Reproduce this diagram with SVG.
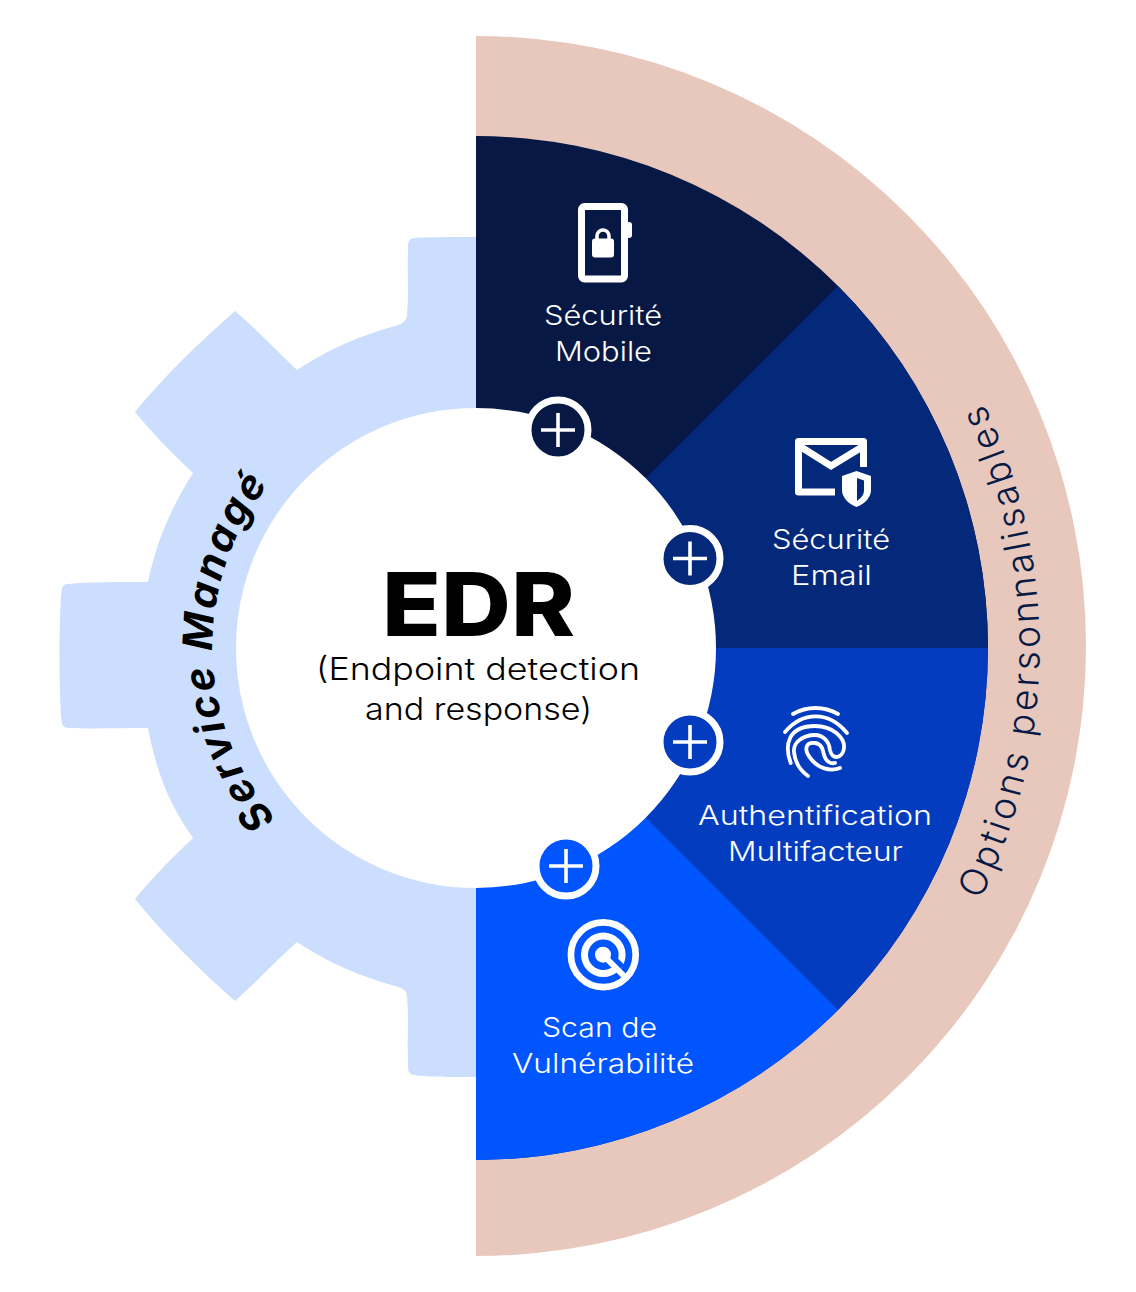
<svg xmlns="http://www.w3.org/2000/svg" width="1136" height="1292" viewBox="0 0 1136 1292">
<style>
text{font-family:"Inter","Open Sans","Liberation Sans",sans-serif}
.l{font-size:27px;fill:#fff;font-weight:300;text-anchor:start}
.c{font-size:31px;fill:#000;font-weight:300}
.p{fill:none;stroke:#fff;stroke-width:3.6;stroke-linecap:butt}
.w{fill:none;stroke:#fff;stroke-linecap:round;stroke-linejoin:round}
</style>
<defs>
<path id="arcL" d="M276 819A264 264 0 0 1 272 480"/>
<path id="arcR" d="M980 900A563 563 0 0 0 982 400"/>
<g id="plus"><path class="p" d="M-17 0H17M0 -17V17"/></g>
</defs>
<rect width="1136" height="1292" fill="#fff"/>
<g id="options-band">
<path d="M476 36A610 610 0 0 1 476 1256Z" fill="#e8c8bd"/>
<text font-size="37" font-weight="300" fill="#061a45"><textPath href="#arcR" textLength="514" lengthAdjust="spacing">Options personnalisables</textPath></text>
</g>
<g id="service-gear">
<path d="M476 237C450 237 425 237 414 238C408 239 408 243 408 250C407 270 409 290 407 315C407 321 402 324 395 326C360 336 330 348 297 370C276 350 256 329 235 311C200 342 165 375 135 412C152 433 172 453 193 473C170 510 157 540 148 582C120 582 90 582 68 584C62 584 62 588 61 596C59 630 59 680 61 716C62 725 62 728 70 728C90 729 120 728 148 728C157 775 170 805 193 838C172 858 152 878 135 899C165 936 200 970 235 1001C256 982 276 961 297 942C330 964 360 976 395 986C402 988 407 990 407 997C409 1022 407 1042 408 1062C408 1070 408 1074 414 1075C425 1077 450 1077 476 1077Z" fill="#cbdefe"/>
<text font-size="41" font-weight="700" font-style="italic" fill="#000"><textPath href="#arcL" textLength="362" lengthAdjust="spacing">Service Managé</textPath></text>
</g>
<g id="securite-mobile">
<path d="M476 136A512 512 0 0 1 988 648H476Z" fill="#061843"/>
<rect x="581.500" y="206.500" width="43" height="72.500" rx="3" fill="none" stroke="#fff" stroke-width="7"/>
<rect x="626" y="222" width="6" height="16" rx="3" fill="#fff"/>
<rect x="592" y="238.500" width="22" height="19" rx="3" fill="#fff"/>
<path d="M597 241V236A6 6 0 0 1 609 236V241" fill="none" stroke="#fff" stroke-width="3.500"/>
<text class="l" x="544" y="325" textLength="118" lengthAdjust="spacingAndGlyphs">Sécurité</text>
<text class="l" x="555" y="361" textLength="97" lengthAdjust="spacingAndGlyphs">Mobile</text>
</g>
<g id="securite-email">
<path d="M838 286A512 512 0 0 1 838 1010L476 648Z" fill="#04297a"/>
<path d="M863.500 467V441.500H798.500V492H835" fill="none" stroke="#fff" stroke-width="7" stroke-linejoin="round"/>
<path d="M801 447L831 466L862 447" fill="none" stroke="#fff" stroke-width="7"/>
<path d="M856.500 471L871 476V490C871 498 864 504 856.500 507C849 504 842 498 842 490V476Z" fill="#fff"/>
<path d="M857 478L864 480.500V490C864 495 861 498 857 501Z" fill="#04297a"/>
<text class="l" x="772" y="549" textLength="118" lengthAdjust="spacingAndGlyphs">Sécurité</text>
<text class="l" x="791" y="585" textLength="81" lengthAdjust="spacingAndGlyphs">Email</text>
</g>
<g id="authentification">
<path d="M988 648A512 512 0 0 1 476 1160V648Z" fill="#043cc0"/>
<g class="w" stroke-width="3.800">
<path d="M793 714C807 706 824 706 838 714"/>
<path d="M785 732C803 711 829 711 847 733"/>
<path d="M790.700 763C784 745 788 726 815 726C833 726 845 738 844 748C843 758 832 761 830 750C829 741 823 735 815 735C802 735 793 743 794 752C795 763 801 771 808 776"/>
<path d="M840 768C830 772 818 768 811 759C803 749 806 742 815 743C822 744 823 750 824 755C826 762 831 764 835 763"/>
</g>
<text class="l" x="698" y="825" textLength="234" lengthAdjust="spacingAndGlyphs">Authentification</text>
<text class="l" x="728" y="861" textLength="175" lengthAdjust="spacingAndGlyphs">Multifacteur</text>
</g>
<g id="scan">
<path d="M838 1010A512 512 0 0 1 476 1160V648Z" fill="#0055ff"/>
<circle cx="603.300" cy="954.700" r="32.400" fill="none" stroke="#fff" stroke-width="6.700"/>
<circle cx="603.300" cy="954.700" r="18.800" fill="none" stroke="#fff" stroke-width="7"/>
<path d="M610 957L621 968" stroke="#0055ff" stroke-width="9" fill="none"/>
<circle cx="603" cy="954.700" r="8" fill="#fff"/>
<path d="M605 957L624 976" stroke="#fff" stroke-width="6" fill="none"/>
<text class="l" x="542" y="1037" textLength="115" lengthAdjust="spacingAndGlyphs">Scan de</text>
<text class="l" x="512" y="1073" textLength="182" lengthAdjust="spacingAndGlyphs">Vulnérabilité</text>
</g>
<g id="edr-core">
<circle cx="476" cy="648" r="240" fill="#fff"/>
<text x="382" y="636" font-size="88" font-weight="800" fill="#000" textLength="193" lengthAdjust="spacingAndGlyphs">EDR</text>
<text class="c" x="316" y="680" textLength="324" lengthAdjust="spacingAndGlyphs">(Endpoint detection</text>
<text class="c" x="365" y="720" textLength="227" lengthAdjust="spacingAndGlyphs">and response)</text>
</g>
<g id="plus-mobile"><circle cx="558" cy="430" r="30" fill="#061843" stroke="#fff" stroke-width="7"/><use href="#plus" x="558" y="430"/></g>
<g id="plus-email"><circle cx="690" cy="558.500" r="30" fill="#04297a" stroke="#fff" stroke-width="7"/><use href="#plus" x="690" y="558.500"/></g>
<g id="plus-auth"><circle cx="690" cy="742" r="30" fill="#043cc0" stroke="#fff" stroke-width="7"/><use href="#plus" x="690" y="742"/></g>
<g id="plus-scan"><circle cx="566" cy="866" r="30" fill="#0055ff" stroke="#fff" stroke-width="7"/><use href="#plus" x="566" y="866"/></g>
</svg>
